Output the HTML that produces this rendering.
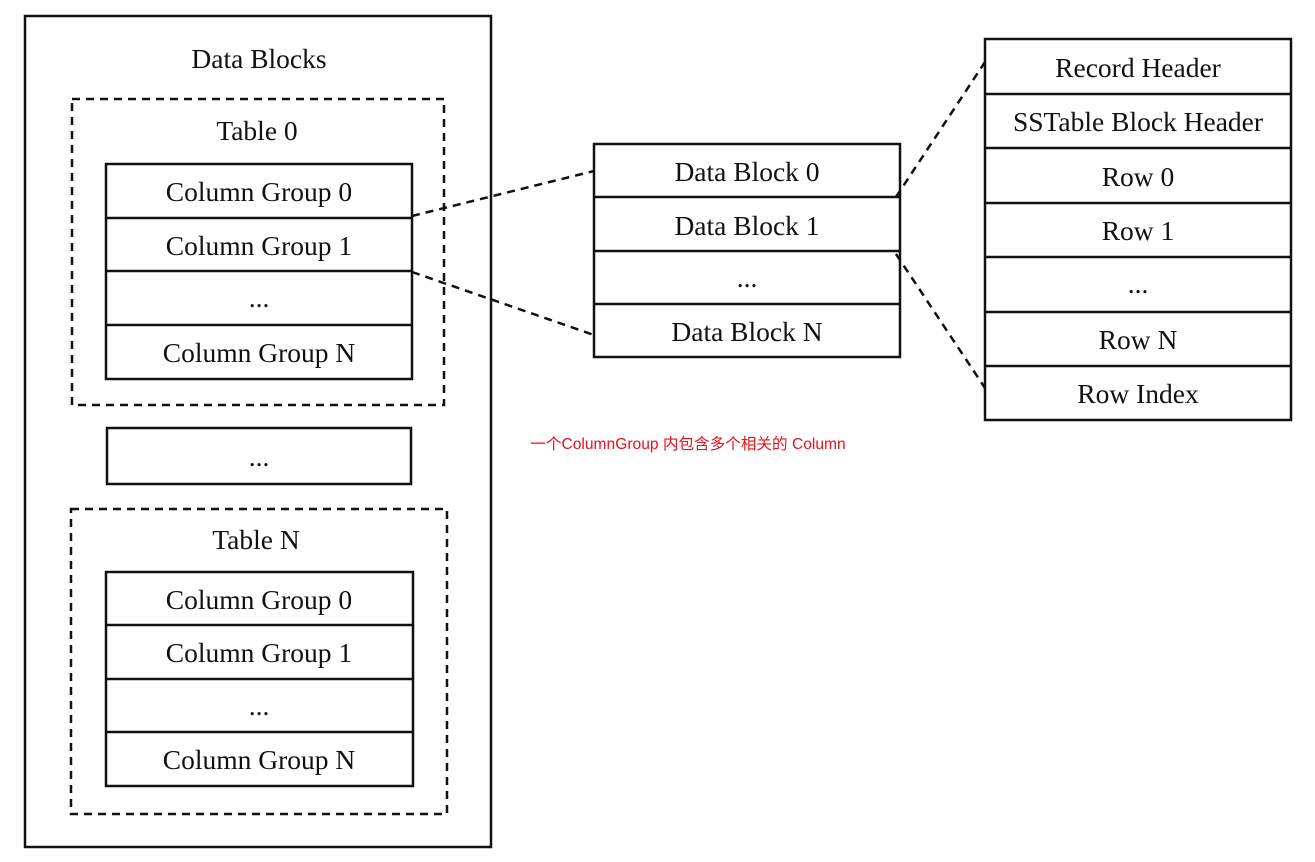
<!DOCTYPE html>
<html><head><meta charset="utf-8"><style>
html,body{margin:0;padding:0;background:#fff;width:1315px;height:862px;overflow:hidden}
svg text{font-family:"Liberation Serif",serif;font-size:27.5px;fill:#111;text-anchor:middle}
</style></head><body>
<svg width="1315" height="862" xmlns="http://www.w3.org/2000/svg">
<g fill="none" stroke="#111" stroke-width="2.5">
<rect x="25" y="16" width="466" height="831"/>
<rect x="72" y="99" width="372" height="306" stroke-dasharray="8,6"/>
<rect x="71" y="509" width="376" height="305" stroke-dasharray="8,6"/>
<rect x="106" y="164" width="306" height="215"/>
<line x1="106" y1="218" x2="412" y2="218"/><line x1="106" y1="271" x2="412" y2="271"/><line x1="106" y1="325" x2="412" y2="325"/>
<rect x="107" y="428" width="304" height="56"/>
<rect x="106" y="572" width="307" height="214"/>
<line x1="106" y1="625" x2="413" y2="625"/><line x1="106" y1="679" x2="413" y2="679"/><line x1="106" y1="732" x2="413" y2="732"/>
<rect x="594" y="144" width="306" height="213"/>
<line x1="594" y1="197" x2="900" y2="197"/><line x1="594" y1="251" x2="900" y2="251"/><line x1="594" y1="304" x2="900" y2="304"/>
<rect x="985" y="39" width="306" height="381"/>
<line x1="985" y1="94" x2="1291" y2="94"/><line x1="985" y1="148" x2="1291" y2="148"/><line x1="985" y1="203" x2="1291" y2="203"/><line x1="985" y1="257" x2="1291" y2="257"/><line x1="985" y1="312" x2="1291" y2="312"/><line x1="985" y1="366" x2="1291" y2="366"/>
<g stroke-dasharray="8,6">
<line x1="412" y1="216" x2="594" y2="171"/>
<line x1="412" y1="272" x2="594" y2="335"/>
<line x1="896" y1="197" x2="985" y2="62"/>
<line x1="896" y1="254" x2="985" y2="388"/>
</g>
</g>
<text x="259" y="68">Data Blocks</text>
<text x="257" y="140">Table 0</text>
<text x="259" y="201">Column Group 0</text>
<text x="259" y="255">Column Group 1</text>
<text x="259" y="307">...</text>
<text x="259" y="362">Column Group N</text>
<text x="259" y="466">...</text>
<text x="256" y="549">Table N</text>
<text x="259" y="609">Column Group 0</text>
<text x="259" y="662">Column Group 1</text>
<text x="259" y="715">...</text>
<text x="259" y="769">Column Group N</text>
<text x="747" y="181">Data Block 0</text>
<text x="747" y="235">Data Block 1</text>
<text x="747" y="287">...</text>
<text x="747" y="341">Data Block  N</text>
<text x="1138" y="77">Record Header</text>
<text x="1138" y="131">SSTable Block Header</text>
<text x="1138" y="186">Row 0</text>
<text x="1138" y="240">Row 1</text>
<text x="1138" y="293">...</text>
<text x="1138" y="349">Row N</text>
<text x="1138" y="403">Row Index</text>
<text x="688" y="449" style="font-family:'Liberation Sans','Noto Sans CJK SC',sans-serif;font-size:15.6px;fill:#e8101a">一个ColumnGroup 内包含多个相关的 Column</text>
</svg>
</body></html>
